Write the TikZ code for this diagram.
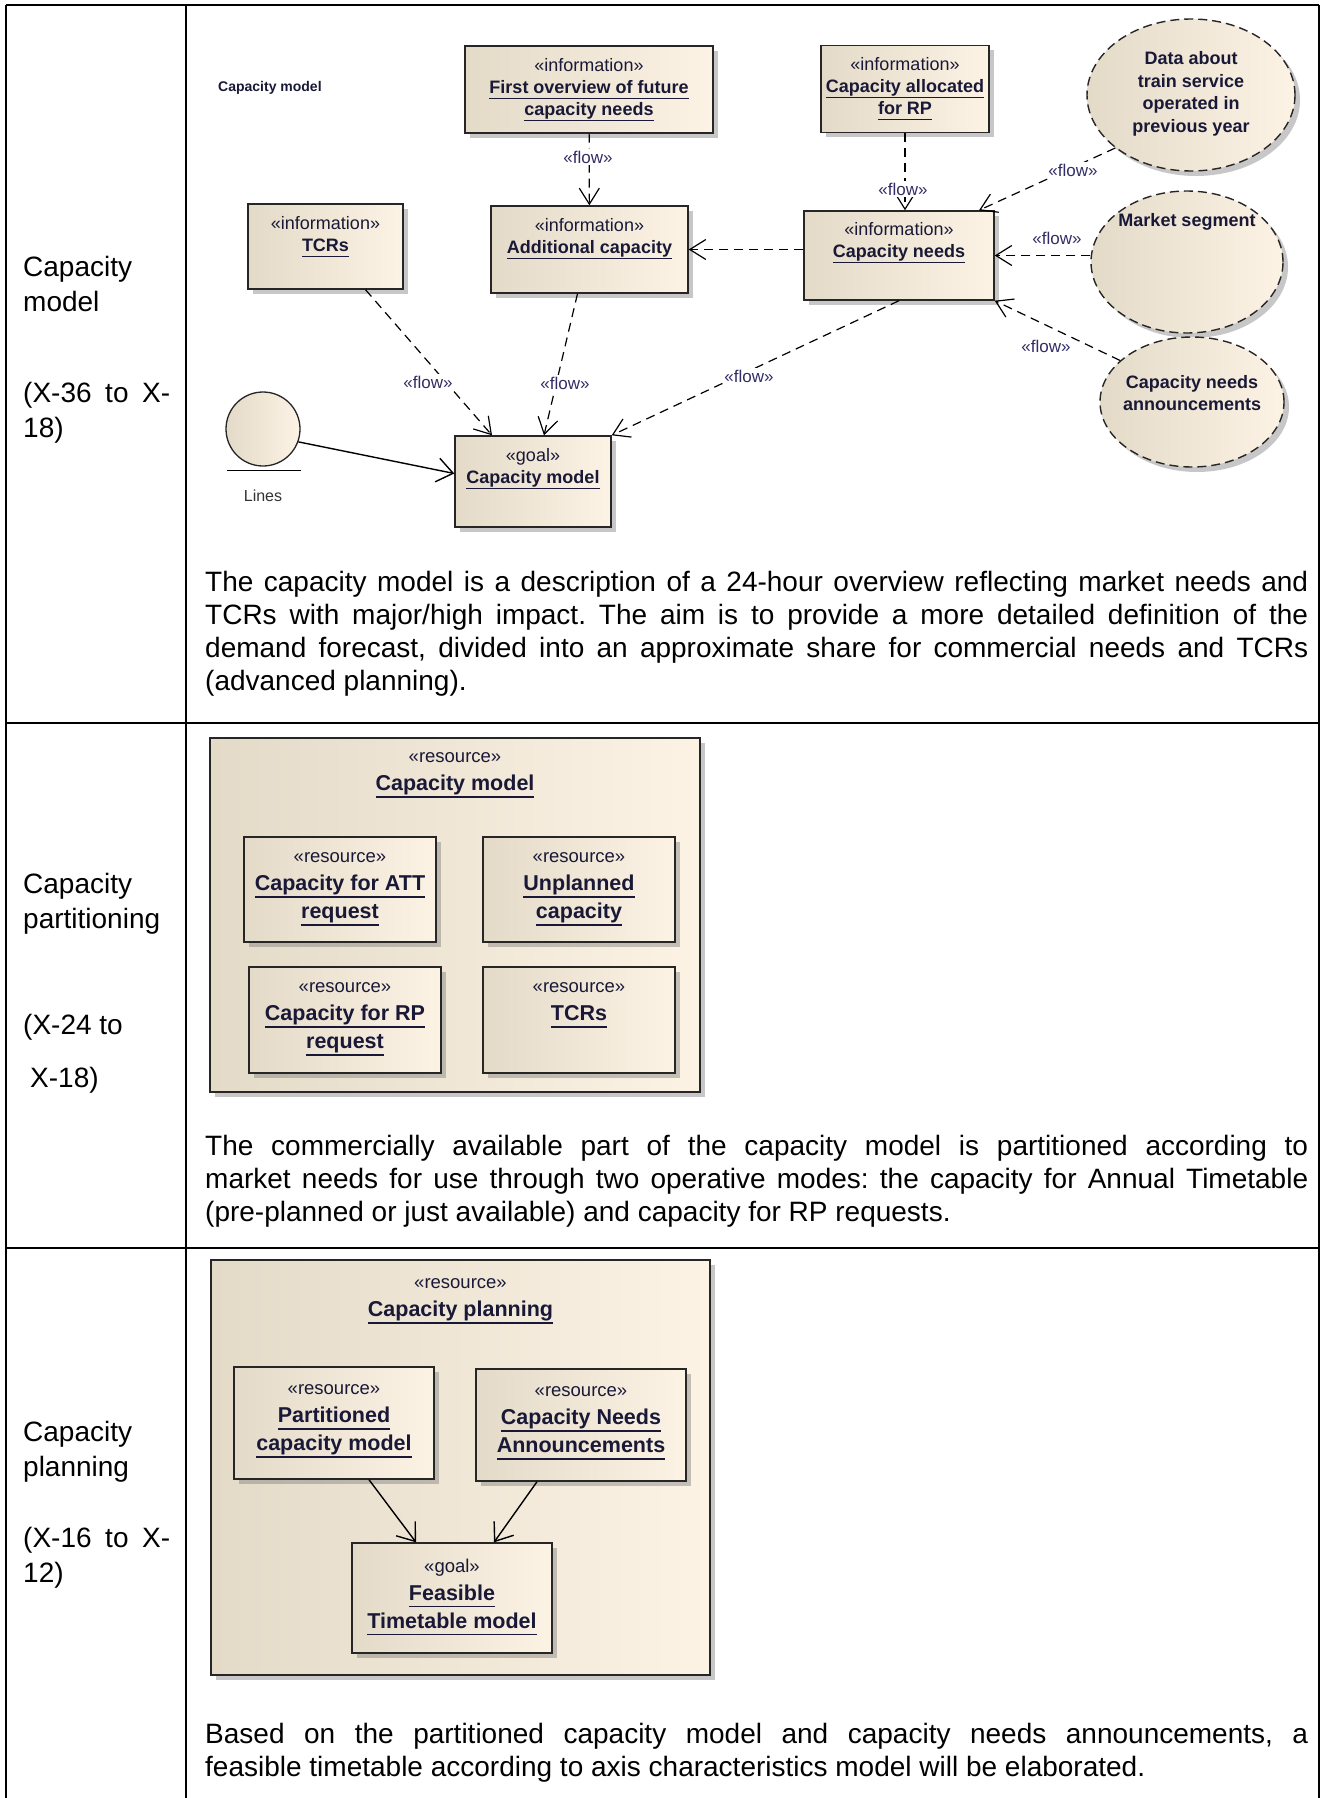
\documentclass[tikz,border=0pt]{standalone}
\usepackage{fontspec}
\setmainfont{Liberation Sans}
\usetikzlibrary{positioning,shapes.geometric,shadows,arrows.meta}

\definecolor{boxl}{RGB}{228,218,200}
\definecolor{boxr}{RGB}{252,243,229}
\definecolor{umltext}{RGB}{25,25,55}
\definecolor{flowtext}{RGB}{50,45,100}

% underlined element name, rule below the descenders
\newcommand{\ulname}[1]{\leavevmode\setbox0=\hbox{#1}\rlap{\rule[-0.32em]{\wd0}{0.07em}}\box0}
% stereotype line in the larger diagrams
\newcommand{\stereofont}{\fontsize{18.5}{28}\selectfont}

\tikzset{
  tbl/.style={line width=1.6pt},
  celltext/.style={inner sep=0pt, align=left, anchor=north west, font=\fontsize{28}{35}\selectfont},
  umlbox/.style={draw=black!85, line width=1.4pt, left color=boxl, right color=boxr, inner sep=0pt,
    drop shadow={shadow xshift=5pt, shadow yshift=-5pt, fill=black!55, opacity=.4}},
  umlcloud/.style={umlbox, ellipse, dash pattern=on 9pt off 5pt},
  small/.style={inner sep=0pt, align=center, text=umltext, font=\fontsize{18}{22}\selectfont},
  big/.style={inner sep=0pt, align=center, text=umltext, font=\fontsize{21.5}{28}\selectfont},
  flow/.style={line width=1.2pt, dash pattern=on 9pt off 6pt, -{Straight Barb[length=16pt,width=20pt,line width=1.2pt]}},
  realize/.style={line width=1.4pt, -{Straight Barb[length=16pt,width=24pt,line width=1.4pt]}},
  flowlbl/.style={inner sep=1.5pt, fill=white, text=flowtext, font=\fontsize{17}{20}\selectfont},
}

\begin{document}
\frenchspacing
\begin{tikzpicture}[x=1pt, y=-1pt]
\useasboundingbox (0,0) rectangle (1327,1798);
\fill[white] (0,0) rectangle (1327,1798);

% table frame
\draw[tbl] (6,5) -- (1319,5);
\draw[tbl] (6,5) -- (6,1798);
\draw[tbl] (186,5) -- (186,1798);
\draw[tbl] (1319,5) -- (1319,1798);
\draw[tbl] (6,723) -- (1319,723);
\draw[tbl] (6,1248) -- (1319,1248);

% first column
\node[celltext] (r1-name) at (23,256) {Capacity\\model};
\node[celltext] (r1-span) at (23,382) {\makebox[147pt][s]{(X-36 to X-}\\18)};
\node[celltext] (r2-name) at (23,873) {Capacity\\partitioning};
\node[celltext, font=\fontsize{28}{53}\selectfont] (r2-span) at (23,1014) {(X-24 to\\\hspace*{7pt}X-18)};
\node[celltext] (r3-name) at (23,1421) {Capacity\\planning};
\node[celltext] (r3-span) at (23,1527) {\makebox[147pt][s]{(X-16 to X-}\\12)};

% ---- capacity model ----
\node[anchor=west, inner sep=0pt, text=umltext, font=\fontsize{14}{18}\selectfont\bfseries] (cm-lbl) at (218,88) {Capacity model};

\node[umlbox, minimum width=248pt, minimum height=87pt] (first) at (589,89.5) {};
\node[small, below=13pt of first.north] (first-t) {«information»\\\ulname{\textbf{First overview of future}}\\\ulname{\textbf{capacity needs}}};
\node[umlbox, minimum width=168pt, minimum height=87pt] (capalloc) at (905,89) {};
\node[small, below=12pt of capalloc.north] (capalloc-t) {«information»\\\ulname{\textbf{Capacity allocated}}\\\ulname{\textbf{for RP}}};
\node[umlbox, minimum width=155pt, minimum height=85pt] (tcrs) at (325.5,246.5) {};
\node[small, below=13pt of tcrs.north] (tcrs-t) {«information»\\\ulname{\textbf{TCRs}}};
\node[umlbox, minimum width=197pt, minimum height=87pt] (addcap) at (589.5,249.5) {};
\node[small, below=13pt of addcap.north] (addcap-t) {«information»\\\ulname{\textbf{Additional capacity}}};
\node[umlbox, minimum width=190pt, minimum height=89pt] (capneeds) at (899,255.5) {};
\node[small, below=12pt of capneeds.north] (capneeds-t) {«information»\\\ulname{\textbf{Capacity needs}}};
\node[umlbox, minimum width=156pt, minimum height=91pt] (goal) at (533,481.5) {};
\node[small, below=13pt of goal.north] (goal-t) {«goal»\\\ulname{\textbf{Capacity model}}};

\node[umlcloud, minimum width=208pt, minimum height=152pt] (data) at (1191,95) {};
\node[small, font=\fontsize{18}{22.5}\selectfont\bfseries] (data-t) at ([yshift=1pt]data.center) {Data about\\train service\\operated in\\previous year};
\node[umlcloud, minimum width=192pt, minimum height=142pt] (market) at (1187,262) {};
\node[small, font=\fontsize{18}{22.5}\selectfont\bfseries] (market-t) at ([yshift=40pt]market.center) {Market segment};
\node[umlcloud, minimum width=184pt, minimum height=130pt] (cna) at (1192,402) {};
\node[small, font=\fontsize{18}{22.5}\selectfont\bfseries] (cna-t) at ([yshift=9pt]cna.center) {Capacity needs\\announcements};

\node[circle, draw=black!85, line width=1.3pt, left color=boxl, right color=boxr, minimum size=74pt, inner sep=0pt] (lines) at (263,429) {};
\draw[line width=1.3pt] ([xshift=-36pt,yshift=-4pt]lines.south) -- ([xshift=38pt,yshift=-4pt]lines.south);
\node[below=23pt of lines.south, inner sep=0pt, text=black!80, font=\fontsize{16}{20}\selectfont] (lines-t) {Lines};

% flows
\draw[flow] (first) -- (addcap);
\draw[flow] (capalloc.south) -- (capalloc.south |- capneeds.north);
\draw[flow] (data.215) -- ([xshift=80pt]capneeds.north);
\draw[flow] (market.west |- capneeds.east) -- (capneeds.east);
\draw[flow] (cna.150) -- (capneeds.south east);
\draw[flow] (capneeds.west |- addcap.east) -- (addcap.east);
\draw[flow] ([xshift=40pt]tcrs.south) -- ([xshift=-41pt]goal.north);
\draw[flow] ([xshift=-12pt]addcap.south) -- ([xshift=11pt]goal.north);
\draw[flow] (capneeds.south) -- (goal.north east);
\draw[realize] (lines.-20) -- ([yshift=8pt]goal.west);

\node[flowlbl] (f1) at (588,157) {«flow»};
\node[flowlbl] (f2) at (903,189) {«flow»};
\node[flowlbl] (f3) at (1073,170) {«flow»};
\node[flowlbl] (f4) at (1057,238) {«flow»};
\node[flowlbl] (f5) at (1046,346) {«flow»};
\node[flowlbl] (f6) at (428,382) {«flow»};
\node[flowlbl] (f7) at (565,383) {«flow»};
\node[flowlbl] (f8) at (749,376) {«flow»};

\node[celltext, font=\fontsize{28}{33}\selectfont] (r1-text) at (205,571) {%
\makebox[1103pt][s]{The capacity model is a description of a 24-hour overview reflecting market needs and}\\
\makebox[1103pt][s]{TCRs with major/high impact. The aim is to provide a more detailed definition of the}\\
\makebox[1103pt][s]{demand forecast, divided into an approximate share for commercial needs and TCRs}\\
(advanced planning).};

% ---- capacity partitioning ----
\node[umlbox, minimum width=490pt, minimum height=354pt] (cm-frame) at (455,915) {};
\node[big, below=15.5pt of cm-frame.north] (cm-frame-t) {{\stereofont«resource»}\\\ulname{\textbf{Capacity model}}};
\node[umlbox, minimum width=192pt, minimum height=105pt] (att) at (340,889.5) {};
\node[big, below=16.5pt of att.north] (att-t) {{\stereofont«resource»}\\\ulname{\textbf{Capacity for ATT}}\\\ulname{\textbf{request}}};
\node[umlbox, minimum width=192pt, minimum height=105pt] (unpl) at (579,889.5) {};
\node[big, below=16.5pt of unpl.north] (unpl-t) {{\stereofont«resource»}\\\ulname{\textbf{Unplanned}}\\\ulname{\textbf{capacity}}};
\node[umlbox, minimum width=192pt, minimum height=106pt] (rpreq) at (345,1020) {};
\node[big, below=16.5pt of rpreq.north] (rpreq-t) {{\stereofont«resource»}\\\ulname{\textbf{Capacity for RP}}\\\ulname{\textbf{request}}};
\node[umlbox, minimum width=192pt, minimum height=106pt] (tcrres) at (579,1020) {};
\node[big, below=16.5pt of tcrres.north] (tcrres-t) {{\stereofont«resource»}\\\ulname{\textbf{TCRs}}};

\node[celltext, font=\fontsize{28}{33}\selectfont] (r2-text) at (205,1135) {%
\makebox[1103pt][s]{The commercially available part of the capacity model is partitioned according to}\\
\makebox[1103pt][s]{market needs for use through two operative modes: the capacity for Annual Timetable}\\
(pre-planned or just available) and capacity for RP requests.};

% ---- capacity planning ----
\node[umlbox, minimum width=499pt, minimum height=415pt] (cp-frame) at (460.5,1467.5) {};
\node[big, below=19.5pt of cp-frame.north] (cp-frame-t) {{\stereofont«resource»}\\\ulname{\textbf{Capacity planning}}};
\node[umlbox, minimum width=200pt, minimum height=112pt] (part) at (334,1423) {};
\node[big, below=18.5pt of part.north] (part-t) {{\stereofont«resource»}\\\ulname{\textbf{Partitioned}}\\\ulname{\textbf{capacity model}}};
\node[umlbox, minimum width=210pt, minimum height=112pt] (cnab) at (581,1425) {};
\node[big, below=18.5pt of cnab.north] (cnab-t) {{\stereofont«resource»}\\\ulname{\textbf{Capacity Needs}}\\\ulname{\textbf{Announcements}}};
\node[umlbox, minimum width=200pt, minimum height=110pt] (fgoal) at (452,1598) {};
\node[big, below=16.5pt of fgoal.north] (fgoal-t) {{\stereofont«goal»}\\\ulname{\textbf{Feasible}}\\\ulname{\textbf{Timetable model}}};

\draw[realize] ([xshift=35pt]part.south) -- ([xshift=-36pt]fgoal.north);
\draw[realize] ([xshift=-44pt]cnab.south) -- ([xshift=42pt]fgoal.north);

\node[celltext, font=\fontsize{28}{33}\selectfont] (r3-text) at (205,1723) {%
\makebox[1103pt][s]{Based on the partitioned capacity model and capacity needs announcements, a}\\
feasible timetable according to axis characteristics model will be elaborated.};

\end{tikzpicture}
\end{document}
